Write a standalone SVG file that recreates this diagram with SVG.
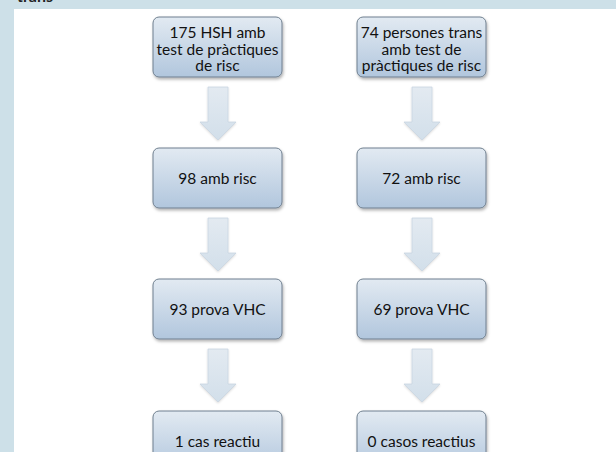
<svg xmlns="http://www.w3.org/2000/svg" width="616" height="452" viewBox="0 0 616 452">
<defs>
<linearGradient id="gBox" x1="0" y1="0" x2="0" y2="1">
<stop offset="0" stop-color="#e2eaf2"/>
<stop offset="1" stop-color="#b1c6dd"/>
</linearGradient>
<linearGradient id="gArrow" x1="0" y1="0" x2="0" y2="1">
<stop offset="0" stop-color="#e3eaf1"/>
<stop offset="1" stop-color="#d2dfea"/>
</linearGradient>
<filter id="sh" x="-10%" y="-10%" width="130%" height="140%">
<feDropShadow dx="1" dy="2" stdDeviation="1.5" flood-color="#000" flood-opacity="0.3"/>
</filter>
<filter id="shA" x="-20%" y="-10%" width="140%" height="130%">
<feDropShadow dx="0" dy="1" stdDeviation="1.2" flood-color="#000" flood-opacity="0.15"/>
</filter>
<path id="arr" d="M-10,0 H10 V35 H18 L0,53 L-18,35 H-10 Z"/>
</defs>
<style>
.box{fill:url(#gBox);stroke:#6f7f8f;stroke-width:1;filter:url(#sh)}
.t{font-family:Lato,"Open Sans","Liberation Sans",sans-serif;font-size:15.5px;fill:#111;text-anchor:middle}
.a{fill:url(#gArrow);stroke:#c9d6e2;stroke-width:0.8;filter:url(#shA)}
</style>
<rect x="0" y="0" width="616" height="452" fill="#cde0e8"/>
<rect x="14" y="9" width="602" height="443" fill="#ffffff"/>
<text x="17" y="2" font-family="Lato,'Liberation Sans',sans-serif" font-size="16" font-weight="bold" fill="#222">trans</text>

<g id="connectors">
<use href="#arr" class="a" transform="translate(218,87)"/>
<use href="#arr" class="a" transform="translate(218,218)"/>
<use href="#arr" class="a" transform="translate(218,349)"/>
<use href="#arr" class="a" transform="translate(422,87)"/>
<use href="#arr" class="a" transform="translate(422,218)"/>
<use href="#arr" class="a" transform="translate(422,349)"/>
</g>

<g id="n1">
<rect class="box" x="153" y="17" width="129" height="60" rx="6"/>
<text class="t" x="217.5" y="38">175 HSH amb</text>
<text class="t" x="217.5" y="54.5">test de pràctiques</text>
<text class="t" x="217.5" y="71">de risc</text>
</g>
<g id="n2">
<rect class="box" x="153" y="148" width="129" height="60" rx="6"/>
<text class="t" x="217.5" y="183.5">98 amb risc</text>
</g>
<g id="n3">
<rect class="box" x="153" y="279" width="129" height="60" rx="6"/>
<text class="t" x="217.5" y="314.5">93 prova VHC</text>
</g>
<g id="n4">
<rect class="box" x="153" y="411" width="129" height="60" rx="6"/>
<text class="t" x="217.5" y="447">1 cas reactiu</text>
</g>

<g id="m1">
<rect class="box" x="357" y="17" width="129" height="60" rx="6"/>
<text class="t" x="421.5" y="38">74 persones trans</text>
<text class="t" x="421.5" y="54.5">amb test de</text>
<text class="t" x="421.5" y="71">pràctiques de risc</text>
</g>
<g id="m2">
<rect class="box" x="357" y="148" width="129" height="60" rx="6"/>
<text class="t" x="421.5" y="183.5">72 amb risc</text>
</g>
<g id="m3">
<rect class="box" x="357" y="279" width="129" height="60" rx="6"/>
<text class="t" x="421.5" y="314.5">69 prova VHC</text>
</g>
<g id="m4">
<rect class="box" x="357" y="411" width="129" height="60" rx="6"/>
<text class="t" x="421.5" y="447">0 casos reactius</text>
</g>
</svg>
